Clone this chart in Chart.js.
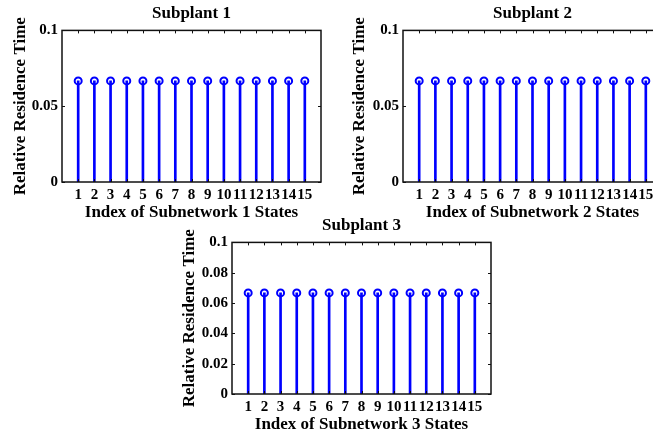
<!DOCTYPE html>
<html>
<head>
<meta charset="utf-8">
<script src="https://cdn.jsdelivr.net/npm/chart.js"></script>
<style>
  html, body { margin: 0; padding: 0; background: #fff; overflow: hidden; }
  body { width: 653px; height: 433px; position: relative; }
  canvas { position: absolute; }
</style>
</head>
<body>
<canvas id="sub1" width="330" height="224" style="left:0px;top:0px;width:330px;height:224px"></canvas>
<canvas id="sub2" width="330" height="224" style="left:341px;top:0px;width:330px;height:224px"></canvas>
<canvas id="sub3" width="330" height="224" style="left:170px;top:212px;width:330px;height:224px"></canvas>
<script>
// donnees
const states = [1, 2, 3, 4, 5, 6, 7, 8, 9, 10, 11, 12, 13, 14, 15];
const residence1 = [0.0667, 0.0667, 0.0667, 0.0667, 0.0667, 0.0667, 0.0667, 0.0667, 0.0667, 0.0667, 0.0667, 0.0667, 0.0667, 0.0667, 0.0667];
const residence2 = [0.0667, 0.0667, 0.0667, 0.0667, 0.0667, 0.0667, 0.0667, 0.0667, 0.0667, 0.0667, 0.0667, 0.0667, 0.0667, 0.0667, 0.0667];
const residence3 = [0.0667, 0.0667, 0.0667, 0.0667, 0.0667, 0.0667, 0.0667, 0.0667, 0.0667, 0.0667, 0.0667, 0.0667, 0.0667, 0.0667, 0.0667];
const yTicksTop = [0, 0.05, 0.1];
const yTicksBottom = [0, 0.02, 0.04, 0.06, 0.08, 0.1];

const FONT = '"Liberation Serif", "Times New Roman", serif';
const BLUE = '#0000ff';

// cadre + petites graduations vers l'interieur (style matlab)
const boxPlugin = {
    id: 'box',
    afterDraw(chart) {
        const ctx = chart.ctx;
        const a = chart.chartArea;
        const xs = chart.scales.x, ys = chart.scales.y;
        ctx.save();
        ctx.strokeStyle = '#111';
        ctx.lineWidth = 1;
        ctx.beginPath();
        xs.ticks.forEach(t => {
            const px = Math.round(xs.getPixelForValue(t.value)) + 0.5;
            ctx.moveTo(px, a.top); ctx.lineTo(px, a.top + 3);
            ctx.moveTo(px, a.bottom); ctx.lineTo(px, a.bottom - 3);
        });
        ys.ticks.forEach(t => {
            const py = Math.round(ys.getPixelForValue(t.value)) + 0.5;
            ctx.moveTo(a.left, py); ctx.lineTo(a.left + 3, py);
            ctx.moveTo(a.right, py); ctx.lineTo(a.right - 3, py);
        });
        ctx.stroke();
        ctx.lineWidth = 1.5;
        ctx.strokeRect(a.left, a.top, a.right - a.left, a.bottom - a.top);
        ctx.restore();
    }
};

function makeStem(id, title, xTitle, values, yTicks, yTitlePad) {
    const pts = states.map((s, i) => ({ x: s, y: values[i] }));
    return new Chart(document.getElementById(id), {
        type: 'bar',
        data: {
            datasets: [{
                type: 'bar',
                data: pts,
                backgroundColor: BLUE,
                barThickness: 2,
                order: 2
            }, {
                type: 'line',
                data: pts,
                showLine: false,
                pointRadius: 3.5,
                pointBorderWidth: 2,
                pointBorderColor: BLUE,
                pointBackgroundColor: 'transparent',
                order: 1
            }]
        },
        options: {
            responsive: false,
            animation: false,
            layout: { padding: { left: 0, right: 9, top: 0, bottom: 0 } },
            plugins: {
                legend: { display: false },
                tooltip: { enabled: false },
                title: {
                    display: true,
                    fullSize: false,   // centre au-dessus de la zone du graphe
                    text: title,
                    color: '#000',
                    font: { family: FONT, size: 17, weight: 'bold' },
                    padding: { top: 3, bottom: 7 }
                }
            },
            scales: {
                x: {
                    type: 'linear',
                    min: 0,
                    max: 16,
                    offset: false,
                    grid: { display: false, drawTicks: false },
                    border: { display: false },
                    afterBuildTicks: s => { s.ticks = states.map(v => ({ value: v })); },
                    afterFit: s => { s.height = 42; },
                    ticks: {
                        autoSkip: false,
                        maxRotation: 0,
                        minRotation: 0,
                        padding: 4,
                        color: '#000',
                        font: { family: FONT, size: 15, weight: 'bold' }
                    },
                    title: {
                        display: true,
                        text: xTitle,
                        color: '#000',
                        font: { family: FONT, size: 17, weight: 'bold' },
                        padding: { top: 0, bottom: 1 }
                    }
                },
                y: {
                    min: 0,
                    max: 0.1,
                    grid: { display: false, drawTicks: false },
                    border: { display: false },
                    afterBuildTicks: s => { s.ticks = yTicks.map(v => ({ value: v })); },
                    afterFit: s => { s.width = 62; },
                    ticks: {
                        padding: 4,
                        color: '#000',
                        font: { family: FONT, size: 15, weight: 'bold' },
                        callback: v => String(v)
                    },
                    title: {
                        display: true,
                        text: 'Relative Residence Time',
                        color: '#000',
                        font: { family: FONT, size: 17, weight: 'bold' },
                        padding: { top: yTitlePad, bottom: 0 }
                    }
                }
            }
        },
        plugins: [boxPlugin]
    });
}

makeStem('sub1', 'Subplant 1', 'Index of Subnetwork 1 States', residence1, yTicksTop, 10);
makeStem('sub2', 'Subplant 2', 'Index of Subnetwork 2 States', residence2, yTicksTop, 8);
makeStem('sub3', 'Subplant 3', 'Index of Subnetwork 3 States', residence3, yTicksBottom, 9);
</script>
</body>
</html>
